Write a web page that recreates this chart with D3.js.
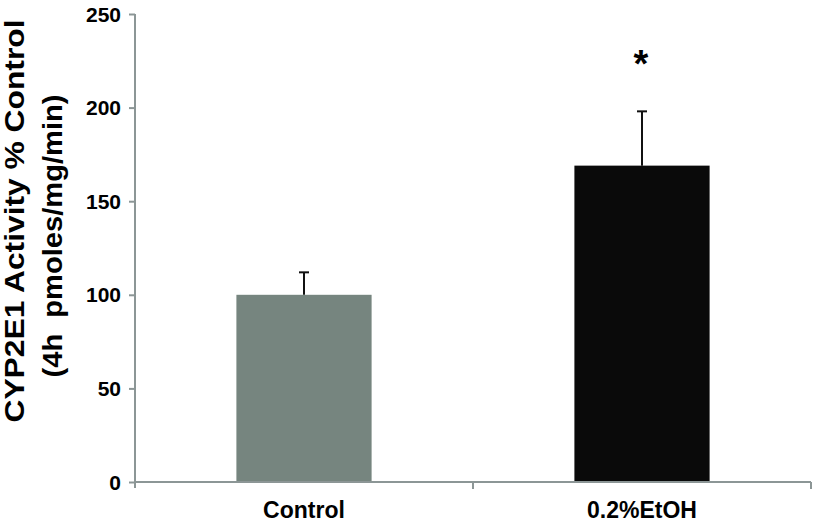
<!DOCTYPE html>
<html>
<head>
<meta charset="utf-8">
<script src="https://cdn.jsdelivr.net/npm/d3@7"></script>
<style>
  body { margin: 0; background: #fff; }
  svg { display: block; font-family: "Liberation Sans", Arial, sans-serif; }
</style>
</head>
<body>
<script>
// chart data
var groups = ["Control", "0.2%EtOH"];
var means = [100, 169];
var errors = [12, 29];
var marks = ["", "*"];
var yTicks = [0, 50, 100, 150, 200, 250];
var barColors = ["#76857f", "#0a0a0a"];

// set the dimensions and margins of the graph
var W = 813, H = 528;
var margin = {top: 14, right: 2, bottom: 46, left: 135},
    width = W - margin.left - margin.right,
    height = H - margin.top - margin.bottom;

var x = d3.scaleBand().domain(groups).range([0, width])
    .paddingInner(0.6).paddingOuter(0.3);
var xAxisScale = d3.scaleBand().domain(groups).range([0, width]);
var y = d3.scaleLinear().domain([0, 250]).range([height, 0]);

var svg = d3.select("body").append("svg")
    .attr("width", W)
    .attr("height", H)
  .append("g")
    .attr("transform", "translate(" + margin.left + "," + margin.top + ")");

var axisColor = "#8c9696";

// bars
svg.selectAll(".bar")
    .data(groups)
  .enter().append("rect")
    .attr("x", function(d) { return x(d); })
    .attr("width", x.bandwidth())
    .attr("y", function(d, i) { return y(means[i]); })
    .attr("height", function(d, i) { return height - y(means[i]); })
    .attr("fill", function(d, i) { return barColors[i]; });

// error bars (upper only)
groups.forEach(function(g, i) {
  var cx = x(g) + x.bandwidth() / 2;
  svg.append("line")
      .attr("x1", cx).attr("x2", cx)
      .attr("y1", y(means[i])).attr("y2", y(means[i] + errors[i]))
      .attr("stroke", "#111").attr("stroke-width", 2);
  svg.append("line")
      .attr("x1", cx - 5).attr("x2", cx + 5)
      .attr("y1", y(means[i] + errors[i])).attr("y2", y(means[i] + errors[i]))
      .attr("stroke", "#111").attr("stroke-width", 2);
  if (marks[i]) {
    svg.append("text")
        .attr("x", cx - 1)
        .attr("y", y(means[i] + errors[i]) - 34)
        .attr("text-anchor", "middle")
        .attr("font-size", "38px")
        .attr("font-weight", "bold")
        .attr("fill", "#000")
        .text(marks[i]);
  }
});

// Y axis
var yAxis = svg.append("g")
    .call(d3.axisLeft(y).tickValues(yTicks).tickSize(6).tickPadding(8).tickSizeOuter(0));
yAxis.select(".domain").attr("stroke", axisColor).attr("stroke-width", 2)
    .attr("d", "M0,0V" + (height + 6));
yAxis.selectAll(".tick line").attr("stroke", axisColor).attr("stroke-width", 2);
yAxis.selectAll(".tick text")
    .attr("font-size", "21px").attr("font-weight", "bold").attr("fill", "#000")
    .attr("font-family", "Liberation Sans, Arial, sans-serif")
    .attr("dy", "0.34em");

// X axis - ticks at category boundaries
var xg = svg.append("g").attr("transform", "translate(0," + height + ")");
xg.append("line").attr("x1", 0).attr("x2", width).attr("y1", 0).attr("y2", 0)
    .attr("stroke", axisColor).attr("stroke-width", 2);
groups.forEach(function(g) {
  var bx = xAxisScale(g) + xAxisScale.bandwidth();
  xg.append("line").attr("x1", bx).attr("x2", bx).attr("y1", 0).attr("y2", 7)
      .attr("stroke", axisColor).attr("stroke-width", 2);
  xg.append("text")
      .attr("x", x(g) + x.bandwidth() / 2)
      .attr("y", 36)
      .attr("text-anchor", "middle")
      .attr("font-size", "23px").attr("font-weight", "bold").attr("fill", "#000")
      .text(g);
});

// Y axis title (two lines)
var root = d3.select("svg");
root.append("text")
    .attr("transform", "translate(24,221) rotate(-90)")
    .attr("text-anchor", "middle")
    .attr("font-size", "28px").attr("font-weight", "bold").attr("fill", "#000")
    .attr("textLength", 403).attr("lengthAdjust", "spacingAndGlyphs")
    .text("CYP2E1 Activity % Control");
root.append("text")
    .attr("transform", "translate(62,236) rotate(-90)")
    .attr("text-anchor", "middle")
    .attr("font-size", "28px").attr("font-weight", "bold").attr("fill", "#000")
    .attr("textLength", 283).attr("lengthAdjust", "spacingAndGlyphs")
    .style("white-space", "pre")
    .text("(4h  pmoles/mg/min)");
</script>
</body>
</html>
